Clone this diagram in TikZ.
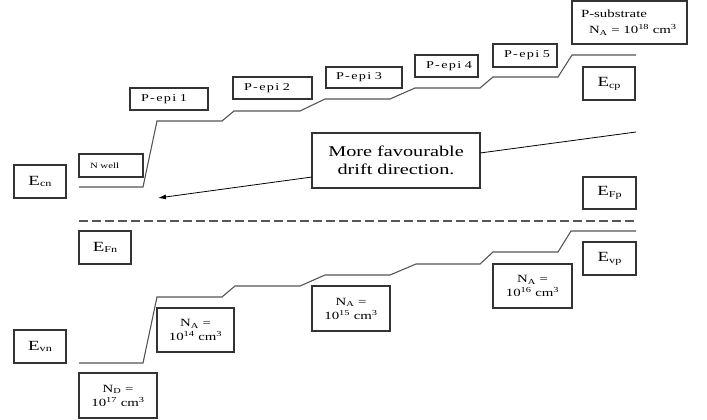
\documentclass[tikz,border=0pt]{standalone}
\usepackage{fontspec}
\setmainfont{Liberation Serif}[FakeStretch=1.35]
\usetikzlibrary{arrows.meta}
\definecolor{boxc}{HTML}{333333}
\definecolor{bandc}{HTML}{555555}
\newcommand\lsub[1]{\raisebox{-1.8pt}{\fontsize{9}{9}\selectfont #1}}
\begin{document}
\begin{tikzpicture}[x=1pt,y=-1pt,
  box/.style={draw=boxc, line width=1.1pt, inner sep=0pt, outer sep=0pt, anchor=north west, align=center},
  lbox/.style={draw=boxc, line width=1.1pt, inner xsep=11pt, inner ysep=0pt, outer sep=0pt, anchor=north west, align=left},
  ebox/.style={box, minimum width=52pt, minimum height=33pt, font=\fontsize{14}{14}\selectfont},
  nbox/.style={box, font=\fontsize{11}{14}\selectfont},
  epi/.style={lbox, font=\fontsize{10.5}{12}\selectfont\addfontfeature{LetterSpace=13}},
  band/.style={draw=bandc, line width=1.1pt},
  fermi/.style={draw=bandc, line width=1.8pt, dash pattern=on 9pt off 4pt},
  drift/.style={draw=black, line width=0.8pt}]
\useasboundingbox (0,0) rectangle (707,420);

% energy level labels
\node[ebox] (ecn) at (14,165) {E\lsub{cn}};
\node[ebox] (efn) at (79,231) {E\lsub{Fn}};
\node[ebox] (evn) at (14,330) {E\lsub{vn}};
\node[ebox, minimum width=52pt] (ecp) at (583,67) {E\lsub{cp}};
\node[ebox, minimum width=53pt, minimum height=32pt] (efp) at (583,177) {E\lsub{Fp}};
\node[ebox, minimum width=53pt] (evp) at (583,242) {E\lsub{vp}};

% region labels
\node[lbox, text width=42pt, minimum height=23pt, font=\fontsize{8}{9}\selectfont] (nwell) at (79,154) {\mbox{N well}};
\node[epi, text width=56pt, minimum height=22pt] (epi1) at (130,88) {\mbox{P-epi 1}};
\node[epi, text width=57pt, minimum height=22pt] (epi2) at (233,77) {\mbox{P-epi 2}};
\node[epi, inner xsep=10pt, text width=56pt, minimum height=21pt] (epi3) at (326,67) {\mbox{P-epi 3}};
\node[epi, text width=41pt, minimum height=22pt] (epi4) at (415,55) {\mbox{P-epi 4}};
\node[epi, text width=42pt, minimum height=23pt] (epi5) at (493,44) {\mbox{P-epi 5}};
\node[lbox, inner xsep=9pt, text width=97pt, minimum height=43pt, font=\fontsize{11}{16}\selectfont] (psub) at (572,1)
  {P-substrate\\\hspace*{8pt}N\textsubscript{A} = 10\textsuperscript{18} cm\textsuperscript{3}};

% doping labels
\node[nbox, minimum width=78pt, minimum height=45pt] (nd) at (79,373) {N\textsubscript{D} =\\10\textsuperscript{17} cm\textsuperscript{3}};
\node[nbox, minimum width=77pt, minimum height=44pt] (na14) at (157,308) {N\textsubscript{A} =\\10\textsuperscript{14} cm\textsuperscript{3}};
\node[nbox, minimum width=78pt, minimum height=45pt] (na15) at (312,286) {N\textsubscript{A} =\\10\textsuperscript{15} cm\textsuperscript{3}};
\node[nbox, minimum width=79pt, minimum height=44pt] (na16) at (493,264) {N\textsubscript{A} =\\10\textsuperscript{16} cm\textsuperscript{3}};

% drift annotation
\node[box, minimum width=168pt, minimum height=55pt, font=\fontsize{15}{18.5}\selectfont] (fav) at (312,133) {More favourable\\drift direction.};
\coordinate (favL) at (312,177);
\coordinate (favR) at (480,153);
\coordinate (tip) at (158,198);
\coordinate (farR) at (636,132);
\draw[drift, -{Latex[length=8pt,width=5pt]}] (favL) -- (tip);
\draw[drift] (favR) -- (farR);

% conduction band
\draw[band] (79,187) -- (143,187) -- (157,121) -- (222,121) -- (234,111) -- (300,111)
  -- (325,99) -- (390,99) -- (415,88) -- (480,88) -- (493,77) -- (558,77) -- (572,55) -- (636,55);

% Fermi level
\draw[fermi] (79,221) -- (634,221);

% valence band
\draw[band] (79,363) -- (143,363) -- (157,297) -- (222,297) -- (235,286) -- (300,286)
  -- (325,275) -- (390,275) -- (416,264) -- (480,264) -- (493,252) -- (558,252) -- (571,231) -- (636,231);
\end{tikzpicture}
\end{document}
